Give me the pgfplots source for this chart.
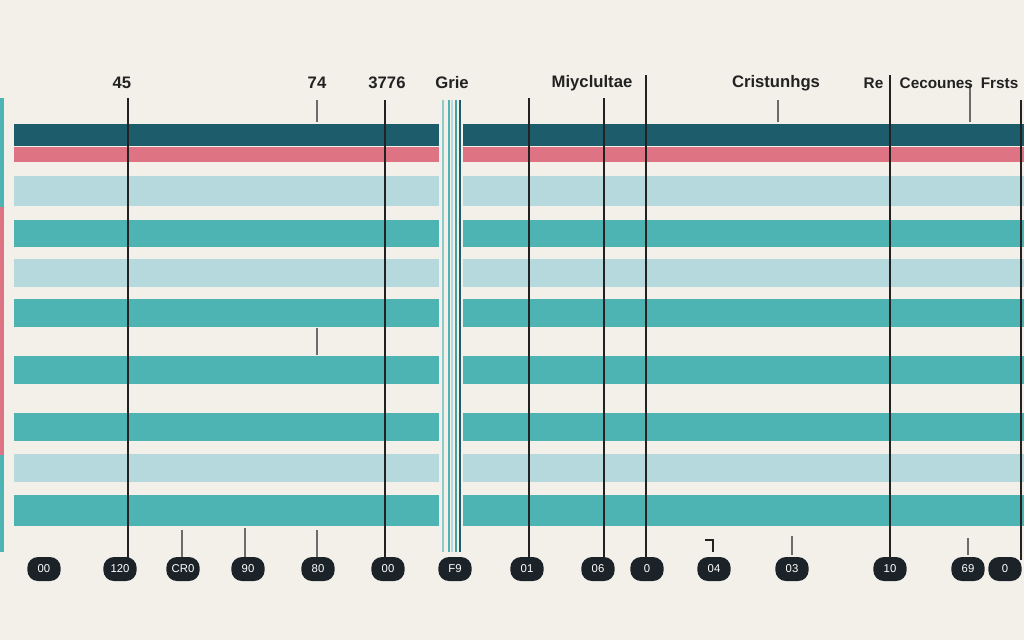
\documentclass[border=0pt]{standalone}
\usepackage{pgfplots}
\pgfplotsset{compat=1.18}
\usepackage{fontspec}
\setmainfont{Liberation Sans}
\definecolor{bgcol}{HTML}{F3F0E9}
\definecolor{darkteal}{HTML}{1C5C6B}
\definecolor{pinkbar}{HTML}{DE7383}
\definecolor{lightblue}{HTML}{B5D9DC}
\definecolor{tealbar}{HTML}{4EB4B3}
\definecolor{inkline}{HTML}{222222}
\definecolor{greyline}{HTML}{6B6B6B}
\definecolor{pill}{HTML}{1B2329}

% one horizontal band, split in two by the centre stripes
\newcommand\band[3]{%
  \addplot[fill=#1,draw=none] coordinates {(14,#2)(439,#2)(439,#3)(14,#3)} -- cycle;
  \addplot[fill=#1,draw=none] coordinates {(463,#2)(1024,#2)(1024,#3)(463,#3)} -- cycle;
}
\newcommand\leader[4]{%
  \addplot[#1,line width=1.1pt] coordinates {(#2,#3)(#2,#4)};
}

\begin{document}
\begin{tikzpicture}
\begin{axis}[
    width=768pt, height=480pt, scale only axis,
    xmin=0, xmax=1024, ymin=0, ymax=640, y dir=reverse,
    axis lines=none, enlargelimits=false, clip=false,
    axis background/.style={fill=bgcol},
]
% left edge strip
\addplot[fill=tealbar,draw=none] coordinates {(0,98)(4,98)(4,207)(0,207)} -- cycle;
\addplot[fill=pinkbar,draw=none] coordinates {(0,207)(4,207)(4,455)(0,455)} -- cycle;
\addplot[fill=tealbar,draw=none] coordinates {(0,455)(4,455)(4,552)(0,552)} -- cycle;

% bands: colour, top, bottom (pixels)
\band{darkteal}{124}{146}
\band{pinkbar}{147}{162}
\band{lightblue}{176}{206}
\band{tealbar}{220}{247}
\band{lightblue}{259}{287}
\band{tealbar}{299}{327}
\band{tealbar}{356}{384}
\band{tealbar}{413}{441}
\band{lightblue}{454}{482}
\band{tealbar}{495}{526}

% centre stripes
\addplot[lightblue!60!tealbar,line width=1.4pt] coordinates {(443,100)(443,552)};
\addplot[tealbar,line width=1.6pt] coordinates {(449,100)(449,552)};
\addplot[lightblue,line width=1.2pt] coordinates {(452,100)(452,552)};
\addplot[tealbar!80!darkteal,line width=2pt] coordinates {(456,100)(456,552)};
\addplot[darkteal,line width=1.4pt] coordinates {(460,100)(460,552)};

% full-height leader lines
\leader{inkline}{128}{98}{560}
\leader{inkline}{385}{100}{557}
\leader{inkline}{529}{98}{560}
\leader{inkline}{604}{98}{560}
\leader{inkline}{646}{75}{560}
\leader{inkline}{890}{75}{560}
\leader{inkline}{1021}{100}{560}
% short leader lines
\leader{greyline}{317}{100}{122}
\leader{greyline}{317}{328}{355}
\leader{greyline}{317}{530}{557}
\leader{greyline}{182}{530}{557}
\leader{greyline}{245}{528}{557}
\leader{greyline}{778}{100}{122}
\leader{greyline}{792}{536}{555}
\leader{greyline}{970}{85}{122}
\leader{greyline}{968}{538}{555}
\addplot[inkline,line width=0.9pt] coordinates {(705,540)(713,540)(713,552)};

% top labels
\begin{scope}[every node/.style={font=\bfseries\fontsize{12.5}{14}\selectfont, text=inkline}]
\node at (axis cs:122,83) {45};
\node at (axis cs:317,83) {74};
\node at (axis cs:387,83) {3776};
\node at (axis cs:452,83) {Grie};
\node at (axis cs:592,83) {Miyclultae};
\node at (axis cs:776,83) {Cristunhgs};
\end{scope}
\begin{scope}[every node/.style={font=\bfseries\fontsize{11.5}{13}\selectfont, text=inkline}]
\node[anchor=east] at (axis cs:888,83) {Re};
\node[anchor=west] at (axis cs:895,83) {Cecounes};
\node[anchor=east] at (axis cs:1023,83) {Frsts};
\end{scope}

% bottom pills
\begin{scope}[every node/.style={fill=pill, text=white, rounded corners=8pt,
    minimum height=18pt, minimum width=25pt, inner sep=2pt,
    font=\fontsize{8.5}{9}\selectfont}]
\node at (axis cs:44,569) {00};
\node at (axis cs:120,569) {120};
\node at (axis cs:183,569) {CR0};
\node at (axis cs:248,569) {90};
\node at (axis cs:318,569) {80};
\node at (axis cs:388,569) {00};
\node at (axis cs:455,569) {F9};
\node at (axis cs:527,569) {01};
\node at (axis cs:598,569) {06};
\node at (axis cs:647,569) {0};
\node at (axis cs:714,569) {04};
\node at (axis cs:792,569) {03};
\node at (axis cs:890,569) {10};
\node at (axis cs:968,569) {69};
\node at (axis cs:1005,569) {0};
\end{scope}
\end{axis}
\pgfresetboundingbox
\path[use as bounding box] (0,0) rectangle (768pt,480pt);
\end{tikzpicture}
\end{document}
